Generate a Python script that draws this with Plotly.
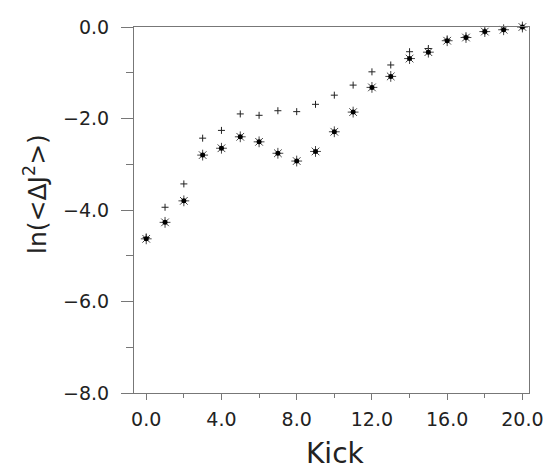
import plotly.graph_objects as go

kick = list(range(21))
series_star = [-4.63, -4.27, -3.80, -2.80, -2.65, -2.40, -2.51, -2.76, -2.93, -2.72,
               -2.29, -1.86, -1.32, -1.08, -0.69, -0.55, -0.30, -0.23, -0.10, -0.06, 0.0]
series_plus = [-4.60, -3.94, -3.43, -2.43, -2.26, -1.90, -1.93, -1.83, -1.85, -1.69,
               -1.49, -1.27, -0.98, -0.83, -0.54, -0.47, -0.28, -0.22, -0.10, -0.05, 0.0]

x_ticks = [0, 4, 8, 12, 16, 20]
x_ticklabels = ["0.0", "4.0", "8.0", "12.0", "16.0", "20.0"]
y_ticks = [0, -2, -4, -6, -8]
y_ticklabels = ["0.0", "\u22122.0", "\u22124.0", "\u22126.0", "\u22128.0"]

# page has an 8px body margin; figure placed so the plot area lands at page (134,16)-(529,393)
OFF = 8
PL, PT, PW, PH = 134 - OFF, 16 - OFF, 395, 377

fig = go.Figure()
fig.add_trace(go.Scatter(x=kick, y=series_plus, mode="markers",
                         marker=dict(symbol="cross-thin-open", size=5, color="#222",
                                     line=dict(width=1, color="#222")),
                         showlegend=False, cliponaxis=False))
fig.add_trace(go.Scatter(x=kick, y=series_star, mode="markers",
                         marker=dict(symbol="asterisk-open", size=9, color="#444",
                                     line=dict(width=1, color="#666")),
                         showlegend=False, cliponaxis=False))
fig.add_trace(go.Scatter(x=kick, y=series_star, mode="markers",
                         marker=dict(symbol="circle", size=5, color="#000"),
                         showlegend=False, cliponaxis=False))

axis_common = dict(showgrid=False, zeroline=False, showline=True, linecolor="#777",
                   linewidth=1, mirror=True, ticks="outside", tickcolor="#777",
                   tickwidth=1, ticklabeloverflow="allow",
                   tickfont=dict(family="DejaVu Sans", size=19, color="#222"))

fig.update_xaxes(range=[-0.65, 20.35], tickmode="array", tickvals=x_ticks,
                 ticktext=x_ticklabels, ticklen=6, ticklabelstandoff=3,
                 minor=dict(dtick=2, tick0=0, ticklen=4, ticks="outside", tickcolor="#777"),
                 **axis_common)
fig.update_yaxes(range=[-8, 0], tickmode="array", tickvals=y_ticks,
                 ticktext=y_ticklabels, ticklen=12, ticklabelstandoff=8,
                 minor=dict(dtick=1, tick0=0, ticklen=7, ticks="outside", tickcolor="#777"),
                 **axis_common)

def px(x):
    return (x - 134) / PW

def py(y):
    return (393 - y) / PH

fig.add_annotation(text="Kick", xref="paper", yref="paper",
                   x=px(335), y=py(455), xanchor="center",
                   yanchor="middle", showarrow=False,
                   font=dict(family="DejaVu Sans", size=28, color="#222"))
fig.add_annotation(text="ln(&lt;\u0394J<sup>2</sup>&gt;)", xref="paper", yref="paper",
                   x=px(36), y=py(188), xanchor="center",
                   yanchor="middle", textangle=-90, showarrow=False,
                   font=dict(family="DejaVu Sans", size=25, color="#222"))

fig.update_layout(width=552 - OFF, height=470 - OFF,
                  margin=dict(l=PL, r=552 - OFF - PL - PW, t=PT, b=470 - OFF - PT - PH),
                  plot_bgcolor="white", paper_bgcolor="white")

fig.write_html("out.html")
